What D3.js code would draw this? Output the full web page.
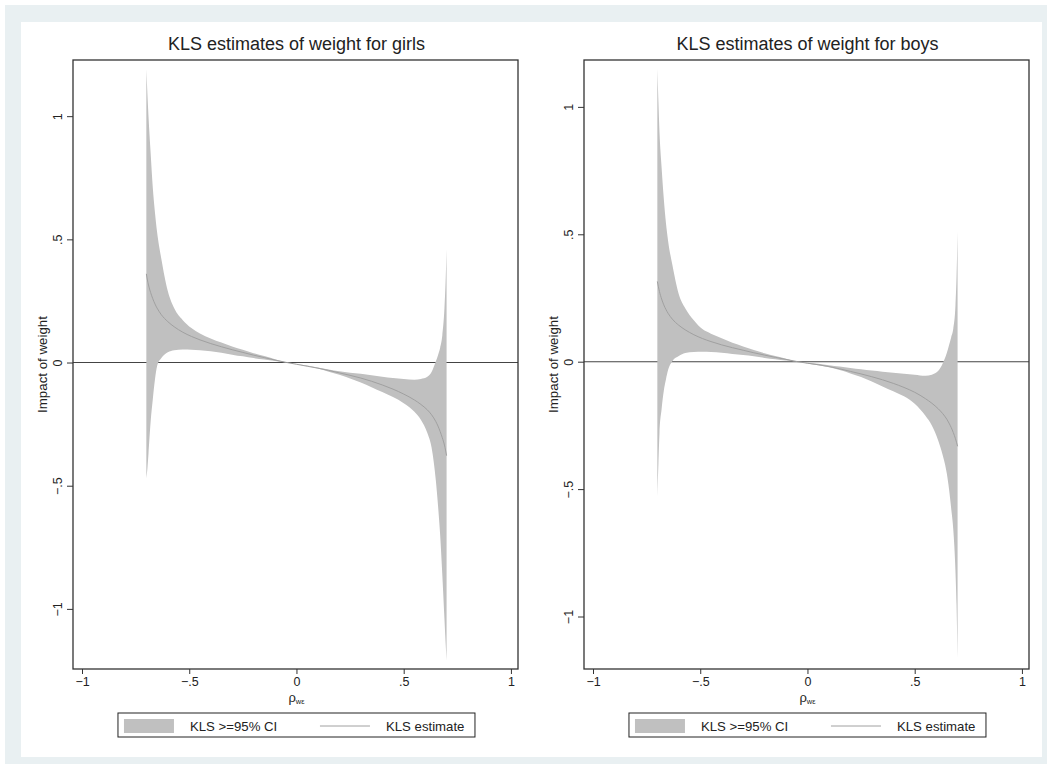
<!DOCTYPE html>
<html lang="en">
<head>
  <meta charset="UTF-8">
  <title>KLS estimates of weight</title>
  <style>
    body {
      margin: 0;
      background: #fff;
      font-family: "Liberation Sans", Arial, Helvetica, sans-serif;
    }
    svg { display: block; }
    .tick text { font-family: "Liberation Sans", Arial, sans-serif; }
  </style>
</head>
<body>
  <div id="chart"></div>

  <script src="https://d3js.org/d3.v7.min.js"></script>
  <script>
    // rho grid shared by both panels
    const rho = [-0.70, -0.695, -0.69, -0.68, -0.67, -0.66, -0.65, -0.63, -0.60, -0.57,
                 -0.53, -0.49, -0.45, -0.40, -0.35, -0.30, -0.25, -0.20, -0.15, -0.10,
                 -0.045, 0, 0.05, 0.10, 0.15, 0.20, 0.25, 0.30, 0.35, 0.40,
                 0.45, 0.50, 0.55, 0.58, 0.61, 0.63, 0.65, 0.66, 0.67, 0.68,
                 0.69, 0.695, 0.70];

    // girls
    const girlsUpper = [1.19, 1.09, 1.00, 0.85, 0.71, 0.61, 0.53, 0.42, 0.29, 0.22,
                        0.172, 0.140, 0.118, 0.098, 0.081, 0.065, 0.052, 0.038, 0.026, 0.013,
                        0, -0.006, -0.012, -0.020, -0.028, -0.035, -0.041, -0.046, -0.052, -0.058,
                        -0.063, -0.067, -0.070, -0.067, -0.058, -0.038, 0.005, 0.03, 0.06, 0.11,
                        0.22, 0.32, 0.46];
    const girlsEst = [0.36, 0.335, 0.315, 0.284, 0.259, 0.238, 0.221, 0.194, 0.166, 0.145,
                      0.123, 0.106, 0.092, 0.077, 0.064, 0.052, 0.041, 0.030, 0.020, 0.010,
                      0, -0.007, -0.015, -0.023, -0.032, -0.042, -0.052, -0.063, -0.076, -0.091,
                      -0.108, -0.128, -0.152, -0.17, -0.192, -0.212, -0.24, -0.258, -0.28, -0.305,
                      -0.335, -0.355, -0.378];
    const girlsLower = [-0.47, -0.43, -0.37, -0.24, -0.15, -0.07, -0.015, 0.018, 0.042, 0.05,
                        0.053, 0.052, 0.05, 0.046, 0.040, 0.032, 0.025, 0.018, 0.012, 0.006,
                        0, -0.007, -0.015, -0.024, -0.037, -0.05, -0.065, -0.081, -0.10, -0.12,
                        -0.14, -0.165, -0.20, -0.232, -0.285, -0.345, -0.48, -0.58, -0.70, -0.86,
                        -1.04, -1.13, -1.21];

    // boys
    const boysUpper = [1.15, 1.02, 0.90, 0.76, 0.64, 0.545, 0.475, 0.38, 0.265, 0.21,
                       0.163, 0.128, 0.11, 0.092, 0.074, 0.06, 0.046, 0.033, 0.022, 0.012,
                       0, -0.004, -0.008, -0.014, -0.019, -0.025, -0.030, -0.035, -0.039, -0.043,
                       -0.047, -0.051, -0.055, -0.051, -0.036, -0.008, 0.035, 0.065, 0.095, 0.13,
                       0.22, 0.33, 0.51];
    const boysEst = [0.315, 0.294, 0.275, 0.246, 0.223, 0.205, 0.19, 0.167, 0.143, 0.125,
                     0.106, 0.091, 0.079, 0.066, 0.055, 0.045, 0.035, 0.026, 0.017, 0.009,
                     0, -0.006, -0.012, -0.019, -0.028, -0.038, -0.048, -0.059, -0.071, -0.085,
                     -0.101, -0.12, -0.145, -0.163, -0.185, -0.203, -0.226, -0.241, -0.258, -0.278,
                     -0.302, -0.316, -0.332];
    const boysLower = [-0.53, -0.40, -0.28, -0.185, -0.115, -0.07, -0.033, 0.002, 0.022, 0.034,
                       0.038, 0.039, 0.038, 0.035, 0.030, 0.026, 0.021, 0.015, 0.010, 0.005,
                       0, -0.007, -0.014, -0.022, -0.033, -0.046, -0.060, -0.078, -0.097, -0.116,
                       -0.136, -0.165, -0.212, -0.25, -0.31, -0.365, -0.44, -0.50, -0.575, -0.66,
                       -0.82, -0.95, -1.16];

    // axes / labels
    const xTicks = [-1, -0.5, 0, 0.5, 1];
    const yTicks = [-1, -0.5, 0, 0.5, 1];
    const titles = ["KLS estimates of weight for girls", "KLS estimates of weight for boys"];
    const yTitle = "Impact of weight";
    const legendLabels = ["KLS >=95% CI", "KLS estimate"];

    const W = 1047, H = 764;
    const bandColor = "#c0c0c0";
    const lineColor = "#a0a0a0";
    const ink = "#222";

    const fmt = d => d === 0 ? "0" : (d < 0 ? "\u2212" : "") + String(Math.abs(d)).replace(/^0/, "");

    const svg = d3.select("#chart")
      .append("svg")
      .attr("width", W)
      .attr("height", H);

    // graph region: light blue frame with white inner area
    svg.append("rect").attr("x", 5).attr("y", 5).attr("width", W - 5).attr("height", H - 5)
      .attr("fill", "#e9f0f2");
    svg.append("rect").attr("x", 21).attr("y", 22).attr("width", 1021).attr("height", 735)
      .attr("fill", "#fff");

    const panels = [
      { title: titles[0], left: 73, yDomain: [-1.244, 1.228],
        rows: rho.map((r, i) => ({ r, lo: girlsLower[i], hi: girlsUpper[i], est: girlsEst[i] })) },
      { title: titles[1], left: 584, yDomain: [-1.206, 1.184],
        rows: rho.map((r, i) => ({ r, lo: boysLower[i], hi: boysUpper[i], est: boysEst[i] })) }
    ];

    const plotTop = 60, plotBottom = 669, plotW = 445;

    panels.forEach(p => {
      const g = svg.append("g");
      const x = d3.scaleLinear().domain([-1.042, 1.033]).range([p.left, p.left + plotW]);
      const y = d3.scaleLinear().domain(p.yDomain).range([plotBottom, plotTop]);

      // title
      g.append("text")
        .attr("x", x(0)).attr("y", 50)
        .attr("text-anchor", "middle")
        .style("font-size", "18px")
        .attr("fill", ink)
        .text(p.title);

      // zero reference line (under the band)
      g.append("line")
        .attr("x1", p.left).attr("x2", p.left + plotW)
        .attr("y1", y(0)).attr("y2", y(0))
        .attr("stroke", "#444").attr("stroke-width", 1.1);

      // confidence band
      const area = d3.area()
        .x(d => x(d.r))
        .y0(d => y(d.lo))
        .y1(d => y(d.hi))
        .curve(d3.curveMonotoneX);
      g.append("path").datum(p.rows)
        .attr("d", area)
        .attr("fill", bandColor);

      // point estimate
      const line = d3.line()
        .x(d => x(d.r))
        .y(d => y(d.est))
        .curve(d3.curveMonotoneX);
      g.append("path").datum(p.rows)
        .attr("d", line)
        .attr("fill", "none")
        .attr("stroke", lineColor)
        .attr("stroke-width", 1);

      // plot box
      g.append("rect")
        .attr("x", p.left).attr("y", plotTop)
        .attr("width", plotW).attr("height", plotBottom - plotTop)
        .attr("fill", "none")
        .attr("stroke", "#333").attr("stroke-width", 1.3);

      // x axis
      const xa = g.append("g")
        .attr("transform", `translate(0,${plotBottom})`)
        .call(d3.axisBottom(x).tickValues(xTicks).tickFormat(fmt).tickSize(5).tickPadding(3));
      xa.select(".domain").remove();
      xa.selectAll("line").attr("stroke", "#333");
      xa.selectAll("text").style("font-size", "12.5px").attr("fill", ink);

      // y axis
      const ya = g.append("g")
        .attr("transform", `translate(${p.left},0)`)
        .call(d3.axisLeft(y).tickValues(yTicks).tickFormat(fmt).tickSize(6));
      ya.select(".domain").remove();
      ya.selectAll("line").attr("stroke", "#333");
      ya.selectAll("text")
        .attr("x", null).attr("dy", null)
        .attr("text-anchor", "middle")
        .attr("transform", "translate(-11,0) rotate(-90)")
        .style("font-size", "12.5px")
        .attr("fill", ink);

      // y title
      g.append("text")
        .attr("transform", `translate(${p.left - 26},${(plotTop + plotBottom) / 2}) rotate(-90)`)
        .attr("text-anchor", "middle")
        .style("font-size", "13.3px")
        .attr("fill", ink)
        .text(yTitle);

      // x title: rho with subscript w-epsilon
      const xt = g.append("text")
        .attr("x", x(0)).attr("y", 702)
        .attr("text-anchor", "middle")
        .attr("fill", ink);
      xt.append("tspan").style("font-size", "13px").text("\u03c1");
      xt.append("tspan").style("font-size", "7.5px").attr("dy", 2).text("w\u03b5");

      // legend
      const lx = x(0) - 178.5, ly = 713;
      const lg = g.append("g").attr("transform", `translate(${lx},${ly})`);
      lg.append("rect").attr("width", 357).attr("height", 24)
        .attr("fill", "#fff").attr("stroke", "#222").attr("stroke-width", 1);
      lg.append("rect").attr("x", 6).attr("y", 6).attr("width", 50).attr("height", 14)
        .attr("fill", bandColor);
      lg.append("text").attr("x", 72).attr("y", 17.5)
        .style("font-size", "13.2px").attr("fill", ink).text(legendLabels[0]);
      lg.append("line").attr("x1", 202).attr("x2", 252).attr("y1", 13).attr("y2", 13)
        .attr("stroke", lineColor).attr("stroke-width", 1);
      lg.append("text").attr("x", 268).attr("y", 17.5)
        .style("font-size", "13.2px").attr("fill", ink).text(legendLabels[1]);
    });
  </script>
</body>
</html>
